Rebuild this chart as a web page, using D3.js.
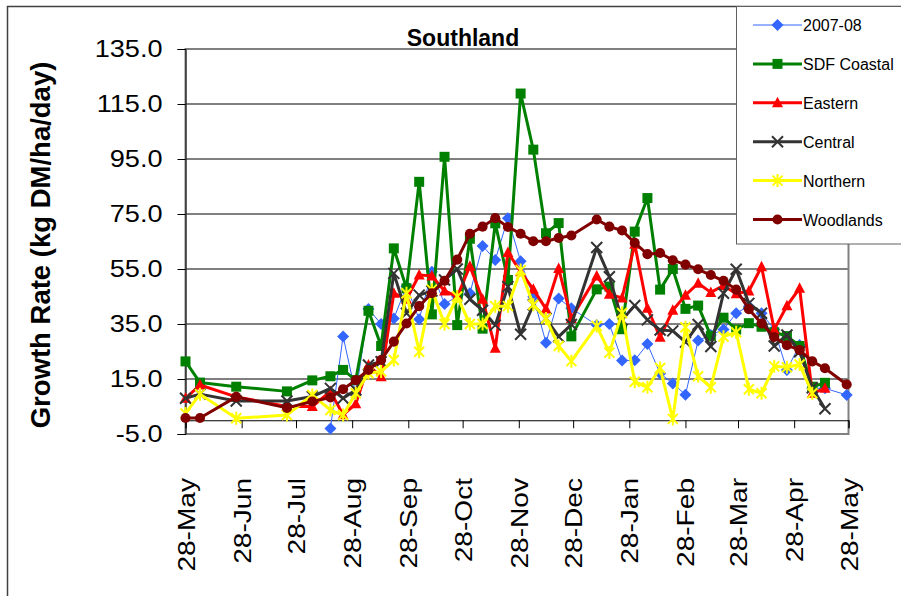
<!DOCTYPE html>
<html>
<head>
<meta charset="utf-8">
<script src="https://cdn.jsdelivr.net/npm/d3@7/dist/d3.min.js"></script>
<style>
  body { margin: 0; background: #fff; }
  svg { display: block; font-family: "Liberation Sans", Arial, sans-serif; }
</style>
</head>
<body>
<div id="chart"></div>
<script>
// Sample dates (weekly from mid-Aug, no reading in the first week of January)
const dates = [
  "2007-05-28", "2007-06-05", "2007-06-25", "2007-07-23", "2007-08-06",
  "2007-08-16", "2007-08-23", "2007-08-30", "2007-09-06", "2007-09-13", "2007-09-20", "2007-09-27",
  "2007-10-04", "2007-10-11", "2007-10-18", "2007-10-25", "2007-11-01", "2007-11-08", "2007-11-15",
  "2007-11-22", "2007-11-29", "2007-12-06", "2007-12-13", "2007-12-20", "2007-12-27",
  "2008-01-10", "2008-01-17", "2008-01-24", "2008-01-31", "2008-02-07", "2008-02-14", "2008-02-21",
  "2008-02-28", "2008-03-06", "2008-03-13", "2008-03-20", "2008-03-27", "2008-04-03", "2008-04-10",
  "2008-04-17", "2008-04-24", "2008-05-01", "2008-05-08", "2008-05-15", "2008-05-27"
];

const season0708 = [
  null, null, null, null, null,
  -3.0, 30.5, 9.5, 40.5, 35.0, 37.0, 48.7,
  36.7, 54.0, 42.3, 45.0, 46.2, 63.4, 58.3, 73.5, 57.8,
  44.9, 28.2, 44.3, 40.7,
  34.6, 35.0, 21.7, 21.8, 27.7, 17.0, 13.4, 9.3,
  29.0, 31.0, 33.0, 38.9, 41.5, 38.9, 33.0, 18.3,
  27.4, 11.6, 11.6, 9.2
];
const sdfCoastal = [
  21.4, 13.7, 12.2, 10.5, 14.5,
  16.0, 18.3, 14.6, 39.8, 27.0, 62.5, 48.0,
  86.7, 38.5, 95.8, 34.6, 66.0, 33.3, 71.6, 51.0, 118.8,
  98.4, 68.0, 71.7, 30.5,
  47.6, 48.6, 33.1, 68.6, 80.8, 47.5, 55.0, 40.5,
  41.7, 30.7, 37.3, 33.0, 35.3, 34.0, 32.0, 30.6,
  27.0, 12.2, 13.6, null
];
const eastern = [
  8.0, 12.8, 8.5, 5.0, 5.0,
  10.5, 2.0, 6.0, 20.1, 15.8, 46.2, 44.0,
  52.8, 52.5, 47.0, 45.0, 56.0, 44.0, 26.2, 61.0, 54.0,
  47.6, 40.5, 55.2, 37.0,
  52.5, 45.8, 44.5, 64.0, 40.7, 30.2, 40.0, 45.5,
  49.8, 46.5, 49.0, 46.0, 47.0, 55.8, 33.0, 41.6,
  48.0, 9.8, 11.6, null
];
const central = [
  8.0, 9.5, 7.0, 7.0, 8.6,
  11.6, 8.0, 11.0, 20.1, 21.3, 53.4, 38.9,
  45.5, 47.0, 51.0, 55.0, 44.0, 40.0, 34.6, 48.6, 31.3,
  42.0, 37.0, 30.4, 34.8,
  62.8, 52.2, 36.5, 41.7, 36.5, 32.8, 32.5, 28.4,
  34.8, 26.8, 46.2, 54.9, 42.5, 38.9, 27.0, 31.0,
  24.9, 11.8, 4.2, null
];
const northern = [
  2.5, 9.5, 0.7, 1.9, 9.2,
  3.7, 1.9, 9.8, 17.1, 17.7, 21.9, 46.2,
  24.9, 47.5, 35.0, 45.0, 35.0, 35.0, 41.5, 41.5, 54.6,
  42.0, 37.0, 27.0, 21.5,
  34.3, 24.6, 39.0, 14.0, 12.0, 19.0, 0.5, 33.8,
  16.0, 12.0, 30.4, 32.0, 11.3, 9.8, 19.6, 19.3,
  20.3, 9.8, null, null
];
const woodlands = [
  0.8, 0.8, 8.5, 4.5, 6.8,
  8.3, 11.3, 14.6, 18.3, 21.9, 28.6, 35.2,
  41.5, 46.2, 50.7, 58.4, 67.8, 70.4, 73.5, 70.3, 67.8,
  65.1, 65.1, 66.3, 67.2,
  73.0, 70.4, 69.0, 64.5, 60.4, 60.8, 58.2, 56.6,
  54.9, 52.8, 50.7, 47.5, 40.4, 35.2, 30.3, 27.3,
  25.5, 21.4, 18.9, 13.0
];

const xTicks = [
  "2007-05-28", "2007-06-28", "2007-07-28", "2007-08-28", "2007-09-28", "2007-10-28", "2007-11-28",
  "2007-12-28", "2008-01-28", "2008-02-28", "2008-03-28", "2008-04-28", "2008-05-28"
];
const yTicks = [-5, 15, 35, 55, 75, 95, 115, 135];

const seriesNames = ["2007-08", "SDF Coastal", "Eastern", "Central", "Northern", "Woodlands"];
const seriesValues = [season0708, sdfCoastal, eastern, central, northern, woodlands];
const seriesColors = ["#3366ff", "#008000", "#ff0000", "#333333", "#ffff00", "#800000"];
const seriesMarkers = ["diamond", "square", "triangle", "cross", "star", "circle"];

const W = 901, H = 596;
const plot = { left: 185.5, right: 848.5, top: 49, bottom: 434 };

const parse = d3.timeParse("%Y-%m-%d");
const x = d3.scaleTime()
  .domain([parse("2007-05-28"), parse("2008-05-28")])
  .range([plot.left, plot.right]);
const y = d3.scaleLinear().domain([-5, 135]).range([plot.bottom, plot.top]);

// plain hyphen for negatives, like the original
const numFormat = d3.formatLocale({
  decimal: ".", thousands: ",", grouping: [3], currency: ["", ""], minus: "-"
}).format(".1f");

const svg = d3.select("#chart").append("svg").attr("width", W).attr("height", H);

// chart frame
svg.append("rect")
  .attr("x", 7.5).attr("y", 6.5).attr("width", 960).attr("height", 640)
  .attr("fill", "#fff").attr("stroke", "#404040").attr("stroke-width", 1.5);

// gridlines
svg.append("g")
  .selectAll("line")
  .data(yTicks.filter((v) => v > -5 && v < 135))
  .join("line")
  .attr("x1", plot.left).attr("x2", plot.right)
  .attr("y1", (d) => y(d)).attr("y2", (d) => y(d))
  .attr("stroke", "#000").attr("stroke-width", 1);

// plot area border
svg.append("rect")
  .attr("x", plot.left).attr("y", plot.top)
  .attr("width", plot.right - plot.left).attr("height", plot.bottom - plot.top)
  .attr("fill", "none").attr("stroke", "#808080").attr("stroke-width", 2);

// y axis
const yAxis = svg.append("g")
  .attr("transform", `translate(${plot.left},0)`)
  .call(d3.axisLeft(y).tickValues(yTicks).tickFormat(numFormat).tickSize(8).tickPadding(15));
yAxis.select(".domain").attr("stroke", "#000");
yAxis.selectAll(".tick line").attr("stroke", "#000");
yAxis.selectAll("text")
  .attr("fill", "#000")
  .style("font-size", "24px")
  .style("font-family", "Liberation Sans, Arial, sans-serif")
  .each(function () {
    const w = this.getComputedTextLength();
    d3.select(this).attr("textLength", w * 1.13).attr("lengthAdjust", "spacingAndGlyphs");
  });

// x axis crosses at zero
const xAxis = svg.append("g")
  .attr("transform", `translate(0,${y(0)})`)
  .call(d3.axisBottom(x).tickValues(xTicks.map(parse)).tickFormat("").tickSize(8));
xAxis.select(".domain").attr("stroke", "#000");
xAxis.selectAll(".tick line").attr("stroke", "#000");

const fmt = d3.timeFormat("%d-%b");
svg.append("g")
  .selectAll("text")
  .data(xTicks.map(parse))
  .join("text")
  .attr("transform", (d) => `translate(${x(d) + 9},478) rotate(-90)`)
  .attr("text-anchor", "end")
  .style("font-size", "24px")
  .text((d) => fmt(d))
  .each(function () {
    const w = this.getComputedTextLength();
    d3.select(this).attr("textLength", w * 1.17).attr("lengthAdjust", "spacingAndGlyphs");
  });

// titles
svg.append("text")
  .attr("x", 463).attr("y", 46)
  .attr("text-anchor", "middle")
  .style("font-size", "23px").style("font-weight", "bold")
  .text("Southland");

svg.append("text")
  .attr("transform", "translate(50,245) rotate(-90)")
  .attr("text-anchor", "middle")
  .style("font-size", "27.5px").style("font-weight", "bold")
  .text("Growth Rate (kg DM/ha/day)");

// marker shapes
function markerPath(type) {
  switch (type) {
    case "diamond": return "M0,-6L6,0L0,6L-6,0Z";
    case "square": return "M-5,-5H5V5H-5Z";
    case "triangle": return "M0,-6L5.5,4.5H-5.5Z";
    case "cross": return "M-5.5,-5.5L5.5,5.5M-5.5,5.5L5.5,-5.5";
    case "star": return "M-5,-5L5,5M-5,5L5,-5M0,-6.5V6.5";
    default: return d3.symbol(d3.symbolCircle, 80)();
  }
}
function drawMarker(g, type, color) {
  const stroked = type === "cross" || type === "star";
  g.append("path")
    .attr("d", markerPath(type))
    .attr("fill", stroked ? "none" : color)
    .attr("stroke", stroked ? color : "none")
    .attr("stroke-width", stroked ? 2 : 0);
}

const line = d3.line()
  .x((d) => x(d.date))
  .y((d) => y(d.value));

seriesNames.forEach((name, i) => {
  const pts = dates
    .map((d, j) => ({ date: parse(d), value: seriesValues[i][j] }))
    .filter((p) => p.value !== null);
  const g = svg.append("g").attr("class", "series");
  g.append("path")
    .datum(pts)
    .attr("d", line)
    .attr("fill", "none")
    .attr("stroke", seriesColors[i])
    .attr("stroke-width", i === 0 ? 1 : 3)
    .attr("stroke-linejoin", "round");
  pts.forEach((p) => {
    drawMarker(
      g.append("g").attr("transform", `translate(${x(p.date)},${y(p.value)})`),
      seriesMarkers[i], seriesColors[i]
    );
  });
});

// legend
const legend = svg.append("g").attr("class", "legend");
legend.append("rect")
  .attr("x", 736.5).attr("y", 6.5).attr("width", 300).attr("height", 237.5)
  .attr("fill", "#fff").attr("stroke", "#606060").attr("stroke-width", 1);

seriesNames.forEach((name, i) => {
  const ly = 25 + i * 38.9;
  const item = legend.append("g").attr("transform", `translate(0,${ly})`);
  item.append("line")
    .attr("x1", 753).attr("x2", 802)
    .attr("stroke", seriesColors[i]).attr("stroke-width", i === 0 ? 1 : 3);
  drawMarker(item.append("g").attr("transform", "translate(777.5,0)"), seriesMarkers[i], seriesColors[i]);
  item.append("text")
    .attr("x", 803).attr("y", 6)
    .style("font-size", "16px")
    .text(name);
});
</script>
</body>
</html>
